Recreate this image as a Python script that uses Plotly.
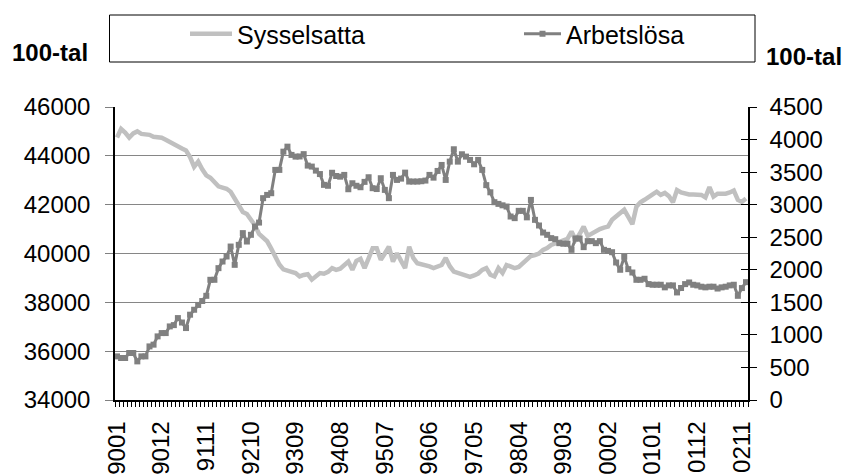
import plotly.graph_objects as go

# ---- data (monthly, 9001 .. 0212), in 100-tal ----
tick_labels = ["9001", "9012", "9111", "9210", "9309", "9408", "9507", "9606",
               "9705", "9804", "9903", "0002", "0101", "0112", "0211"]

sysselsatta = [
    44750, 45100, 44950, 44750, 44920, 45000, 44900, 44880, 44860, 44780,
    44760, 44740, 44660, 44560, 44450, 44350, 44300, 44220, 43950, 43550,
    43760, 43450, 43200, 43100, 42950, 42750, 42700, 42650, 42530, 42250,
    41950, 41700, 41620, 41400, 41150, 40800, 40640, 40500, 40200, 39900,
    39550, 39350, 39280, 39250, 39200, 39060, 39120, 39150, 38930, 39050,
    39200, 39170, 39250, 39400, 39330, 39380, 39500, 39670, 39330, 39700,
    39780, 39400, 39800, 40220, 40220, 39740, 40000, 40280, 39670, 40010,
    39700, 39400, 40280, 39820, 39600, 39560, 39530, 39470, 39400, 39480,
    39530, 39820, 39480, 39260, 39200, 39130, 39060, 39040, 39100, 39180,
    39330, 39400, 39130, 39060, 39400, 39200, 39530, 39460, 39400, 39450,
    39600, 39810, 39900, 39940, 40000, 40150, 40220, 40350, 40420, 40500,
    40560, 40600, 40900, 40560, 40800, 41100, 40720, 40830, 40900, 41000,
    41060, 41100, 41380, 41500, 41650, 41790, 41500, 41200, 41920, 42100,
    42200, 42330, 42420, 42530, 42400, 42480, 42350, 42100, 42600, 42500,
    42440, 42420, 42420, 42400, 42400, 42300, 42720, 42330, 42450, 42450,
    42450, 42500, 42580, 42200, 42120, 42250,
]

arbetslosa = [
    670, 645, 645, 722, 722, 593, 670, 670, 823, 850,
    977, 1028, 1028, 1130, 1150, 1258, 1190, 1105, 1310, 1386,
    1460, 1520, 1600, 1846, 1846, 2025, 2127, 2204, 2357, 2076,
    2383, 2563, 2434, 2537, 2664, 2725, 3100, 3150, 3176, 3534,
    3534, 3814, 3891, 3764, 3738, 3740, 3776, 3600, 3585, 3523,
    3470, 3304, 3290, 3490, 3440, 3430, 3457, 3237, 3329, 3290,
    3268, 3350, 3421, 3253, 3240, 3406, 3227, 3100, 3457, 3380,
    3400, 3492, 3355, 3355, 3355, 3360, 3370, 3457, 3415, 3518,
    3610, 3380, 3661, 3851, 3661, 3774, 3738, 3687, 3620, 3687,
    3534, 3300, 3190, 3038, 3012, 2990, 2971, 2818, 2793, 2905,
    2905, 2805, 3073, 2767, 2680, 2572, 2537, 2486, 2470, 2409,
    2400, 2400, 2306, 2480, 2480, 2348, 2440, 2440, 2409, 2440,
    2306, 2290, 2270, 2112, 2000, 2200, 2010, 1958, 1846, 1846,
    1862, 1780, 1770, 1770, 1770, 1730, 1760, 1760, 1652, 1720,
    1780, 1805, 1770, 1760, 1740, 1730, 1740, 1740, 1712, 1730,
    1740, 1760, 1770, 1600, 1719, 1810,
]

n = len(sysselsatta)
months = list(range(n))
label_every = 11
tick_pos = list(range(0, n, label_every))[:len(tick_labels)]

FONT = "Liberation Sans, Arial, sans-serif"
LIGHT = "#C0C0C0"
DARK = "#808080"

W, H = 845, 475
L, R, T, B = 115, 97, 107, 75
pw, ph = W - L - R, H - T - B

def px_x(px):
    return (px - L) / pw

def px_y(py):
    return (H - B - py) / ph

fig = go.Figure()
fig.add_trace(go.Scatter(
    x=months, y=sysselsatta, name="Sysselsatta", mode="lines",
    line=dict(color=LIGHT, width=4.5), yaxis="y", legend="legend",
))
fig.add_trace(go.Scatter(
    x=months, y=arbetslosa, name="Arbetslösa", mode="lines+markers",
    line=dict(color=DARK, width=3), marker=dict(symbol="square", size=6, color=DARK),
    yaxis="y2", legend="legend2",
))

legend_common = dict(
    orientation="h", yanchor="middle", xanchor="left",
    font=dict(size=25, family=FONT, color="black"),
    bgcolor="rgba(0,0,0,0)", borderwidth=0,
)

fig.update_layout(
    width=W, height=H,
    margin=dict(l=L, r=R, t=T, b=B, autoexpand=False),
    paper_bgcolor="white", plot_bgcolor="white",
    font=dict(family=FONT, size=24, color="black"),
    showlegend=True,
    legend=dict(x=px_x(185), y=px_y(34), itemwidth=42, **legend_common),
    legend2=dict(x=px_x(519), y=px_y(34), itemwidth=37, **legend_common),
    xaxis=dict(
        range=[-0.5, n - 0.5], tickmode="array", tickvals=tick_pos, ticktext=tick_labels,
        tickangle=-90, ticks="", showgrid=False, zeroline=False,
        showline=True, linecolor="black", linewidth=1.5,
        tickfont=dict(size=24, family=FONT, color="black"),
        ticklabelstandoff=10,
        minor=dict(ticks="outside", ticklen=5, tickcolor="black", tickwidth=1,
                   tickmode="linear", tick0=-0.5, dtick=1, showgrid=False),
        automargin=False,
    ),
    yaxis=dict(
        range=[34000, 46000], dtick=2000, tick0=34000, tickmode="linear",
        tickformat="d",
        showgrid=True, gridcolor="#868686", gridwidth=1,
        ticks="outside", ticklen=8, tickcolor="#808080",
        showline=True, linecolor="black", linewidth=1.5, zeroline=False,
        tickfont=dict(size=24, family=FONT, color="black"),
        ticklabelstandoff=10, automargin=False,
    ),
    yaxis2=dict(
        range=[0, 4500], dtick=500, tick0=0, tickmode="linear",
        tickformat="d",
        overlaying="y", side="right", showgrid=False, zeroline=False,
        ticks="outside", ticklen=7, tickcolor="black",
        showline=True, linecolor="black", linewidth=1.5,
        tickfont=dict(size=24, family=FONT, color="black"),
        ticklabelstandoff=8, automargin=False,
    ),
    yaxis3=dict(
        range=[0, 4500], dtick=500, tick0=0, tickmode="linear",
        overlaying="y", side="right", showgrid=False, zeroline=False,
        ticks="inside", ticklen=7, tickcolor="black", showticklabels=False,
        showline=False, automargin=False,
    ),
    shapes=[dict(
        type="rect", xref="paper", yref="paper",
        x0=px_x(109.5), x1=px_x(755), y0=px_y(62), y1=px_y(15),
        line=dict(color="black", width=1), fillcolor="rgba(0,0,0,0)", layer="below",
    )],
    annotations=[
        dict(text="<b>100-tal</b>", xref="paper", yref="paper", x=px_x(50), y=px_y(53),
             showarrow=False, xanchor="center", yanchor="middle",
             font=dict(size=24, family=FONT, color="black")),
        dict(text="<b>100-tal</b>", xref="paper", yref="paper", x=px_x(804), y=px_y(57),
             showarrow=False, xanchor="center", yanchor="middle",
             font=dict(size=24, family=FONT, color="black")),
    ],
)

# invisible helper trace so the inside-tick overlay axis is drawn
fig.add_trace(go.Scatter(x=[0], y=[0], yaxis="y3", mode="markers",
                         marker=dict(opacity=0), showlegend=False, hoverinfo="skip"))

fig.write_html("out.html")
